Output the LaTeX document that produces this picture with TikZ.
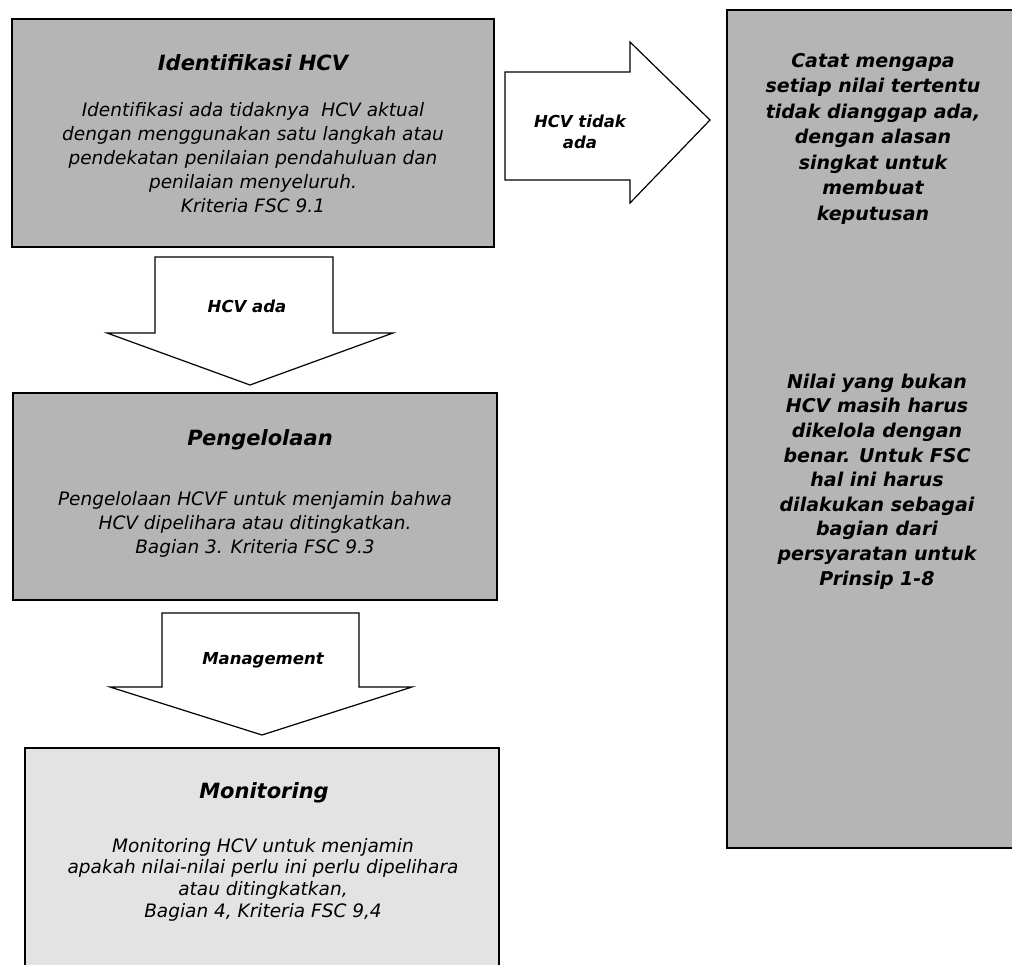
\documentclass[tikz,border=0pt]{standalone}
\usepackage{fontspec}
\setmainfont{DejaVu Sans}
\usetikzlibrary{positioning}

\begin{document}
\begin{tikzpicture}[x=1pt, y=-1pt, line width=1.5pt]
	\tikzstyle{hcvbox} = [draw, rectangle, inner sep=0pt, fill=black!29];
	\tikzstyle{boxtitle} = [font={\fontsize{21}{26}\selectfont\bfseries\itshape}];
	\tikzstyle{boxtext} = [align=center, font={\fontsize{18.5}{24}\selectfont\itshape}];
	\tikzstyle{sidenote} = [align=center, font={\fontsize{19}{25.5}\selectfont\bfseries\itshape}];
	\tikzstyle{blockarrow} = [draw, fill=white, line width=1.2pt, line join=miter];
	\tikzstyle{arrowtext} = [align=center, font={\fontsize{16.5}{21}\selectfont\bfseries\itshape}];

	\clip (0,0) rectangle (1012,965);

	% boxes
	\node[hcvbox, minimum width=482, minimum height=228] (ident) at (253,133) {};
	\node[hcvbox, minimum width=484, minimum height=207] (kelola) at (255,496.5) {};
	\node[hcvbox, minimum width=474, minimum height=242, fill=black!11] (monit) at (262,869) {};
	\node[hcvbox, minimum width=313, minimum height=838] (catat) at (883.5,429) {};

	\node[boxtitle] (identtitle) at (253,63) {Identifikasi HCV};
	\node[boxtext] (identbody) at (253,158) {Identifikasi ada tidaknya\ \ HCV aktual\\
		dengan menggunakan satu langkah atau\\
		pendekatan penilaian pendahuluan dan\\
		penilaian menyeluruh.\\
		Kriteria FSC 9.1};

	\node[boxtitle] (kelolatitle) at (260,440) {Pengelolaan};
	\node[boxtext] (kelolabody) at (255,524.5) {Pengelolaan HCVF untuk menjamin bahwa\\
		HCV dipelihara atau ditingkatkan.\\
		Bagian 3. Kriteria FSC 9.3};

	\node[boxtitle] (monittitle) at (264,793) {Monitoring};
	\node[boxtext, font={\fontsize{18.5}{21.7}\selectfont\itshape}] (monitbody) at (263,879.5) {Monitoring HCV untuk menjamin\\
		apakah nilai-nilai perlu ini perlu dipelihara\\
		atau ditingkatkan,\\
		Bagian 4, Kriteria FSC 9,4};

	\node[sidenote] (catatsatu) at (873,138.5) {Catat mengapa\\
		setiap nilai tertentu\\
		tidak dianggap ada,\\
		dengan alasan\\
		singkat untuk\\
		membuat\\
		keputusan};
	\node[sidenote, font={\fontsize{19}{24.6}\selectfont\bfseries\itshape}] (catatdua) at (877,481.5) {Nilai yang bukan\\
		HCV masih harus\\
		dikelola dengan\\
		benar. Untuk FSC\\
		hal ini harus\\
		dilakukan sebagai\\
		bagian dari\\
		persyaratan untuk\\
		Prinsip 1-8};

	% block arrows
	\draw[blockarrow] (155,257) -- (333,257) -- (333,333) -- (393,333) -- (250,385)
		-- (107,333) -- (155,333) -- cycle;
	\draw[blockarrow] (162,613) -- (359,613) -- (359,687) -- (412,687) -- (262,735)
		-- (110,687) -- (162,687) -- cycle;
	\draw[blockarrow] (505,72) -- (630,72) -- (630,42) -- (710,120) -- (630,203)
		-- (630,180) -- (505,180) -- cycle;

	\node[arrowtext] (ada) at (247,306) {HCV ada};
	\node[arrowtext] (manage) at (263,660) {Management};
	\node[arrowtext] (tidakada) at (580,132) {HCV tidak\\ ada};
\end{tikzpicture}
\end{document}
